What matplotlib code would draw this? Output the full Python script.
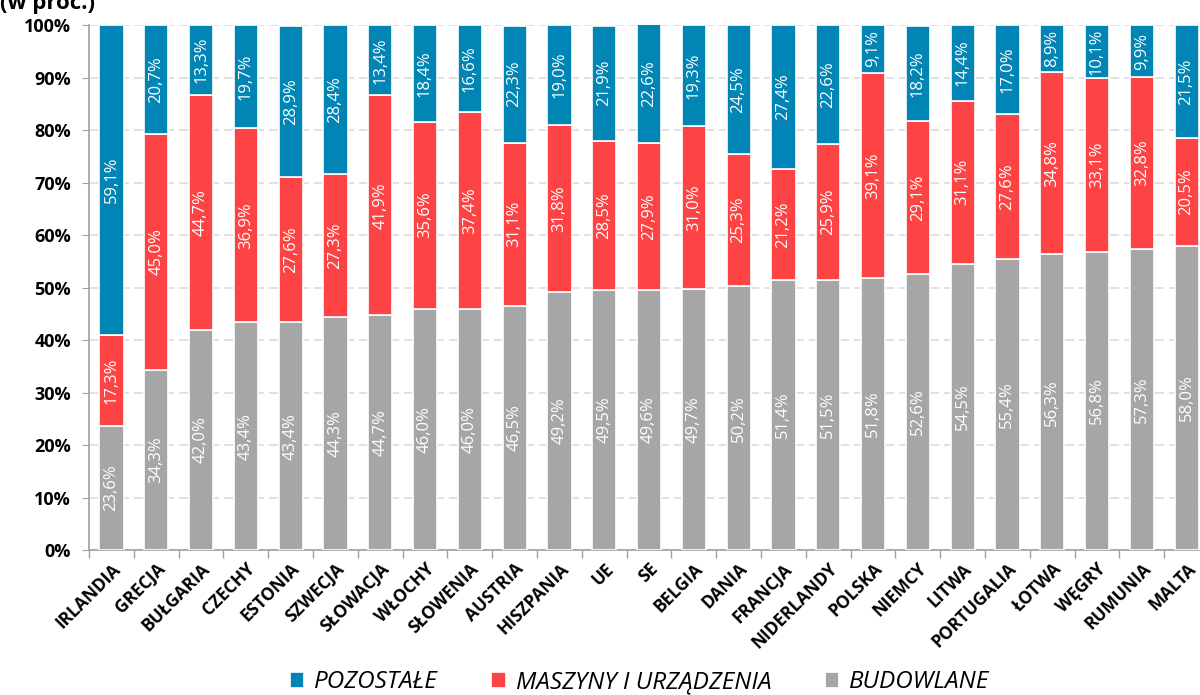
import matplotlib
matplotlib.use('Agg')
import matplotlib.pyplot as plt
import numpy as np
from matplotlib.ticker import PercentFormatter

countries = ['IRLANDIA', 'GRECJA', 'BUŁGARIA', 'CZECHY', 'ESTONIA', 'SZWECJA', 'SŁOWACJA',
             'WŁOCHY', 'SŁOWENIA', 'AUSTRIA', 'HISZPANIA', 'UE', 'SE', 'BELGIA', 'DANIA',
             'FRANCJA', 'NIDERLANDY', 'POLSKA', 'NIEMCY', 'LITWA', 'PORTUGALIA', 'ŁOTWA',
             'WĘGRY', 'RUMUNIA', 'MALTA']
budowlane = [23.6, 34.3, 42.0, 43.4, 43.4, 44.3, 44.7, 46.0, 46.0, 46.5, 49.2, 49.5, 49.6,
             49.7, 50.2, 51.4, 51.5, 51.8, 52.6, 54.5, 55.4, 56.3, 56.8, 57.3, 58.0]
maszyny = [17.3, 45.0, 44.7, 36.9, 27.6, 27.3, 41.9, 35.6, 37.4, 31.1, 31.8, 28.5, 27.9,
           31.0, 25.3, 21.2, 25.9, 39.1, 29.1, 31.1, 27.6, 34.8, 33.1, 32.8, 20.5]
pozostale = [59.1, 20.7, 13.3, 19.7, 28.9, 28.4, 13.4, 18.4, 16.6, 22.3, 19.0, 21.9, 22.6,
             19.3, 24.5, 27.4, 22.6, 9.1, 18.2, 14.4, 17.0, 8.9, 10.1, 9.9, 21.5]

series = [('BUDOWLANE', budowlane, '#a6a6a6'),
          ('MASZYNY I URZĄDZENIA', maszyny, '#fd4343'),
          ('POZOSTAŁE', pozostale, '#0085b4')]

plt.rcParams['font.family'] = ['Open Sans', 'DejaVu Sans']

fig = plt.figure(figsize=(12, 6.95), dpi=100)
ax = fig.add_axes([0.0742, 0.2086, 0.9333, 0.7554])

x = np.arange(len(countries))
bottom = np.zeros(len(countries))
handles = {}
for name, vals, color in series:
    vals = np.array(vals)
    bars = ax.bar(x, vals, width=0.54, bottom=bottom, color=color,
                  edgecolor='white', linewidth=1.2, label=name, zorder=3)
    handles[name] = bars
    for xi, b, v in zip(x, bottom, vals):
        ax.text(xi, b + v / 2, f'{v:.1f}%'.replace('.', ','), rotation=90,
                ha='center', va='center', color='white', fontsize=12, zorder=4)
    bottom += vals

ax.set_xlim(-0.5, len(countries) - 0.5)
ax.set_ylim(0, 100)
ax.set_yticks(np.arange(0, 101, 10))
ax.yaxis.set_major_formatter(PercentFormatter(decimals=0))
ax.grid(axis='y', color='#dcdcdc', linestyle=(0, (6, 3)), linewidth=1.2, zorder=0)

ax.set_xticks(x)
ax.set_xticklabels(countries, rotation=45, ha='right', rotation_mode='anchor',
                   fontsize=12.5, fontweight='bold')
ax.tick_params(axis='x', length=0, pad=7)
ax.set_xticks(np.arange(-0.5, len(countries), 1), minor=True)
ax.tick_params(axis='x', which='minor', length=6, color='#a0a0a0', width=1)
ax.tick_params(axis='y', labelsize=13, length=5, color='#a0a0a0', pad=8)
for lbl in ax.get_yticklabels():
    lbl.set_fontweight('bold')

for s in ['top', 'right']:
    ax.spines[s].set_visible(False)
for s in ['left', 'bottom']:
    ax.spines[s].set_color('#a0a0a0')
    ax.spines[s].set_linewidth(1.2)

fig.text(0.0, 0.995, '(w proc.)', fontsize=16, fontweight='bold', va='center', ha='left')

order = ['POZOSTAŁE', 'MASZYNY I URZĄDZENIA', 'BUDOWLANE']
fig.legend([handles[n] for n in order], order, loc='center', bbox_to_anchor=(0.533, 0.018),
           ncol=3, frameon=False, prop={'style': 'italic', 'size': 17.5},
           handlelength=0.6, handleheight=0.6, handletextpad=0.4, columnspacing=2.2)

fig.savefig('out.png', dpi=100)
